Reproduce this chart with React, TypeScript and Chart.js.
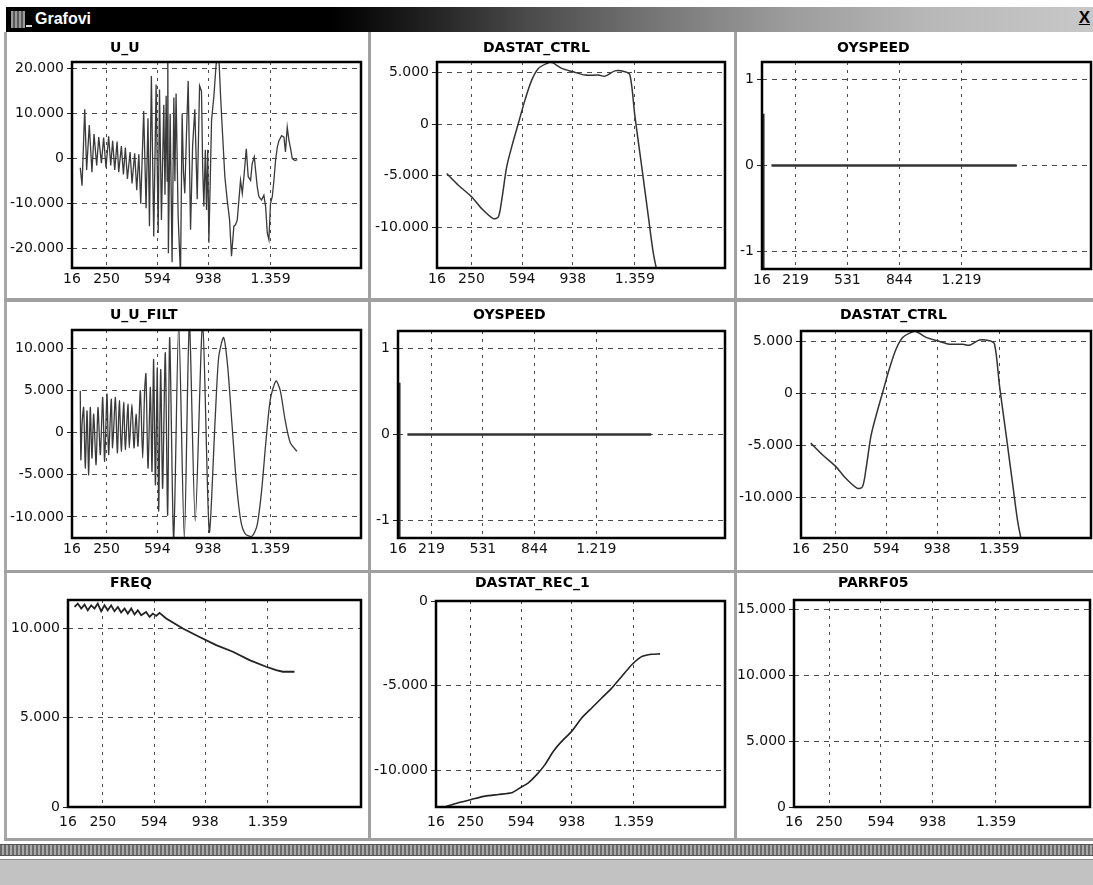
import { useEffect, useRef } from 'react';
import { Chart, registerables } from 'chart.js';

Chart.register(...registerables);

const FONT = "'DejaVu Sans', Verdana, sans-serif";
const TITLE_FONT = "'Liberation Sans', Arial, Helvetica, sans-serif";

// ---- tick values ----
const X_TICKS_A = [16, 250, 594, 938, 1359];
const X_TICKS_B = [16, 219, 531, 844, 1219];
const Y_TICKS_UU = [-20000, -10000, 0, 10000, 20000];
const Y_TICKS_FILT = [-10000, -5000, 0, 5000, 10000];
const Y_TICKS_CTRL = [-10000, -5000, 0, 5000];
const Y_TICKS_SPEED = [-1, 0, 1];
const Y_TICKS_FREQ = [0, 5000, 10000];
const Y_TICKS_REC = [-10000, -5000, 0];
const Y_TICKS_PARR = [0, 5000, 10000, 15000];

// ---- series ----
const UU_X = [72, 84, 102, 115, 133, 151, 165, 183, 197, 215, 230, 246, 264, 278, 291, 305, 321, 332, 350, 364, 377, 391, 409, 422, 440, 454, 468, 481, 501, 517, 530, 540, 553, 569, 585, 599, 608, 621, 637, 645, 653, 660, 664, 668, 680, 693, 705, 712, 720, 734, 750, 761, 770, 779, 790, 802, 818, 832, 847, 863, 879, 892, 900, 908, 918, 926, 934, 942, 960, 976, 991, 1009, 1021, 1032, 1050, 1066, 1082, 1095, 1111, 1122, 1134, 1145, 1156, 1168, 1179, 1195, 1208, 1224, 1235, 1249, 1258, 1269, 1280, 1298, 1314, 1326, 1337, 1348, 1359, 1371, 1382, 1393, 1405, 1416, 1434, 1450, 1460, 1472, 1484, 1495, 1506, 1524, 1540];
const UU_Y = [-2000, -6000, 11000, -2500, 7500, -3000, 5500, -1500, 4800, -1000, 4700, -2000, 5000, -1500, 4000, -2500, 3800, -3000, 2800, -3500, 2500, -4500, 1500, -5500, 1200, -7000, 1000, -10000, 10600, -11000, 9000, -15000, 18400, -17300, 16500, -16500, 15400, -13600, 12000, -8000, 14000, -5000, 25000, -21000, 10000, -23000, 13600, -5000, 14500, -12800, -26000, 10000, -3000, -7700, 5000, 17300, -15800, 3000, 11000, -9000, 16200, 15000, -2000, -10600, 2000, -11400, 2000, -18700, 8500, 14000, 21000, 23000, 14000, 7000, -4000, -9200, -13600, -21700, -15000, -14700, -13600, -9200, -4800, -7700, -4000, 2200, -4000, -4800, -1100, 400, -2600, -6200, -8400, -9200, -8100, -10700, -16500, -18000, -10000, -8400, -4800, -400, 2600, 4000, 5100, 4800, 1500, 7000, 4000, 2200, 0, -400, -200];

const FILT_X = [72, 76, 84, 95, 106, 118, 129, 140, 151, 163, 179, 192, 208, 224, 237, 253, 264, 282, 291, 310, 323, 337, 350, 366, 377, 395, 404, 422, 436, 450, 463, 479, 495, 508, 517, 531, 547, 558, 569, 581, 594, 603, 617, 630, 648, 664, 678, 705, 739, 777, 811, 851, 901, 946, 987, 1010, 1043, 1070, 1100, 1130, 1160, 1190, 1235, 1270, 1300, 1330, 1360, 1398, 1427, 1461, 1495, 1540];
const FILT_Y = [5000, -3200, 1000, 3000, -4200, 2600, -5000, 3000, -3000, 2200, -3800, 3000, -2600, 4200, -3400, 4600, -2600, 4000, -1800, 4200, -2400, 3800, -2200, 3600, -2000, 3400, -1800, 3400, -1800, 2200, -1600, 5000, -3000, 5000, 7000, -4200, 5400, -4600, 8700, -6200, 7700, -9300, 7500, -6600, 9500, -9800, 11300, -12600, 13000, -12600, 13000, -10500, 13000, -11800, 2000, 9000, 11300, 8000, 1000, -6000, -10500, -12000, -12300, -11000, -7000, -1000, 4000, 6150, 5000, 1400, -1200, -2200];

const CTRL_X = [82, 161, 252, 319, 398, 432, 455, 489, 523, 568, 613, 659, 704, 761, 795, 863, 941, 1021, 1111, 1157, 1224, 1292, 1326, 1360, 1406, 1451, 1485, 1520];
const CTRL_Y = [-4790, -5920, -7060, -8190, -9160, -9000, -7380, -4150, -2200, 70, 2330, 4270, 5410, 5890, 5990, 5410, 5080, 4760, 4760, 4660, 5170, 5080, 4760, 710, -4150, -9000, -12550, -15000];

const SPEED_X = [24, 24, 40, 73, 1552];
const SPEED_Y = [0.6, -1.5, null, 0, 0];

const FREQ_X = [60, 82, 105, 127, 149, 172, 194, 216, 239, 261, 283, 306, 328, 351, 373, 396, 418, 441, 463, 485, 508, 541, 564, 586, 609, 631, 676, 788, 900, 1012, 1124, 1236, 1348, 1415, 1460, 1538];
const FREQ_Y = [11210, 11400, 11120, 11340, 11020, 11300, 11120, 11400, 10970, 11300, 11020, 11300, 10970, 11210, 10900, 11120, 10840, 11120, 10790, 11020, 10750, 10930, 10650, 10840, 10710, 10880, 10560, 10000, 9530, 9070, 8700, 8230, 7860, 7670, 7580, 7580];

const REC_X = [77, 167, 258, 349, 439, 530, 586, 643, 700, 756, 813, 869, 937, 1005, 1073, 1141, 1209, 1277, 1345, 1412, 1480, 1537];
const REC_Y = [-12140, -11900, -11700, -11510, -11410, -11310, -11020, -10720, -10240, -9650, -8860, -8280, -7690, -6900, -6310, -5720, -5140, -4450, -3760, -3280, -3140, -3120];

const PARR_X: number[] = [];
const PARR_Y: number[] = [];

type Panel = {
  title: string;
  tx: number;
  ty: number;
  box: [number, number, number, number];
  area: [number, number, number, number];
  xMax: number;
  xTicks: number[];
  yMin: number;
  yMax: number;
  yTicks: number[];
  xs: number[];
  ys: (number | null)[];
  color: string;
  width: number;
  tension: number;
  labelPad: number;
};

function fmt(v: number): string {
  if (v === 0) return '0';
  if (!Number.isInteger(v)) return String(v);
  const neg = v < 0;
  const s = String(Math.abs(v)).replace(/\B(?=(\d{3})+(?!\d))/g, '.');
  return (neg ? '-' : '') + s;
}

const ROW1: [number, number] = [34, 264];
const ROW2: [number, number] = [303, 267];
const ROW3: [number, number] = [574, 264];
const COL1: [number, number] = [8, 360];
const COL2: [number, number] = [372, 362];
const COL3: [number, number] = [738, 355];

const box = (c: [number, number], r: [number, number]): [number, number, number, number] => [c[0], r[0], c[1], r[1]];

const PANELS: Panel[] = [
  { title: 'U_U', tx: 110, ty: 48, box: box(COL1, ROW1), area: [72, 62, 361, 268], xMax: 1971, xTicks: X_TICKS_A, yMin: -24300, yMax: 21500, yTicks: Y_TICKS_UU, xs: UU_X, ys: UU_Y, color: '#3a3a3a', width: 1.3, tension: 0, labelPad: 3 },
  { title: 'DASTAT_CTRL', tx: 483, ty: 48, box: box(COL2, ROW1), area: [437, 62, 725, 268], xMax: 1971, xTicks: X_TICKS_A, yMin: -13950, yMax: 6030, yTicks: Y_TICKS_CTRL, xs: CTRL_X, ys: CTRL_Y, color: '#333', width: 1.5, tension: 0.3, labelPad: 3 },
  { title: 'OYSPEED', tx: 837, ty: 48, box: box(COL3, ROW1), area: [762, 62, 1091, 269], xMax: 2000, xTicks: X_TICKS_B, yMin: -1.2, yMax: 1.2, yTicks: Y_TICKS_SPEED, xs: SPEED_X, ys: SPEED_Y, color: '#333', width: 2.5, tension: 0, labelPad: 3 },
  { title: 'U_U_FILT', tx: 110, ty: 315, box: box(COL1, ROW2), area: [72, 330, 361, 538], xMax: 1974, xTicks: X_TICKS_A, yMin: -12500, yMax: 12200, yTicks: Y_TICKS_FILT, xs: FILT_X, ys: FILT_Y, color: '#3a3a3a', width: 1.3, tension: 0.25, labelPad: 3 },
  { title: 'OYSPEED', tx: 473, ty: 315, box: box(COL2, ROW2), area: [398, 331, 725, 538], xMax: 2000, xTicks: X_TICKS_B, yMin: -1.2, yMax: 1.2, yTicks: Y_TICKS_SPEED, xs: SPEED_X, ys: SPEED_Y, color: '#333', width: 2.5, tension: 0, labelPad: 3 },
  { title: 'DASTAT_CTRL', tx: 840, ty: 315, box: box(COL3, ROW2), area: [801, 331, 1091, 538], xMax: 1979, xTicks: X_TICKS_A, yMin: -13950, yMax: 6030, yTicks: Y_TICKS_CTRL, xs: CTRL_X, ys: CTRL_Y, color: '#333', width: 1.5, tension: 0.3, labelPad: 3 },
  { title: 'FREQ', tx: 110, ty: 583, box: box(COL1, ROW3), area: [68, 600, 361, 807], xMax: 1985, xTicks: X_TICKS_A, yMin: 0, yMax: 11600, yTicks: Y_TICKS_FREQ, xs: FREQ_X, ys: FREQ_Y, color: '#222', width: 1.8, tension: 0, labelPad: 7 },
  { title: 'DASTAT_REC_1', tx: 475, ty: 583, box: box(COL2, ROW3), area: [436, 601, 725, 807], xMax: 1978, xTicks: X_TICKS_A, yMin: -12150, yMax: 0, yTicks: Y_TICKS_REC, xs: REC_X, ys: REC_Y, color: '#222', width: 1.6, tension: 0.2, labelPad: 7 },
  { title: 'PARRF05', tx: 838, ty: 583, box: box(COL3, ROW3), area: [794, 600, 1090, 807], xMax: 1984, xTicks: X_TICKS_A, yMin: 0, yMax: 15700, yTicks: Y_TICKS_PARR, xs: PARR_X, ys: PARR_Y, color: '#222', width: 1.6, tension: 0, labelPad: 7 },
];

function framePlugin(p: Panel) {
  return {
    id: 'frame',
    afterDatasetsDraw(chart: any) {
      const { ctx, chartArea: a } = chart;
      ctx.save();
      ctx.strokeStyle = '#000';
      ctx.lineWidth = 2.5;
      ctx.strokeRect(a.left, a.top, a.right - a.left, a.bottom - a.top);
      ctx.restore();
    },
    afterDraw(chart: any) {
      const ctx = chart.ctx;
      ctx.save();
      ctx.font = `bold 14px ${FONT}`;
      ctx.fillStyle = '#000';
      ctx.textAlign = 'left';
      ctx.textBaseline = 'middle';
      ctx.fillText(p.title, p.tx - p.box[0], p.ty - p.box[1]);
      ctx.restore();
    },
  };
}

function ChartPanel({ p }: { p: Panel }) {
  const ref = useRef<HTMLCanvasElement>(null);
  useEffect(() => {
    const [bl, bt, bw, bh] = p.box;
    const L = p.area[0] - bl;
    const T = p.area[1] - bt;
    const R = p.area[2] - bl;
    const B = p.area[3] - bt;
    const n = Math.min(p.xs.length, p.ys.length);
    const data = [] as { x: number; y: number | null }[];
    for (let i = 0; i < n; i++) data.push({ x: p.xs[i], y: p.ys[i] });
    const tickFont = { family: FONT, size: 14 };
    const chart = new Chart(ref.current as HTMLCanvasElement, {
      type: 'line',
      data: {
        datasets: [
          {
            data: data as any,
            borderColor: p.color,
            borderWidth: p.width,
            pointRadius: 0,
            tension: p.tension,
            fill: false,
            spanGaps: false,
          },
        ],
      },
      options: {
        animation: false,
        responsive: false,
        events: [],
        layout: { padding: { left: 0, top: T, right: bw - R, bottom: 0 } },
        plugins: { legend: { display: false }, tooltip: { enabled: false }, title: { display: false } },
        scales: {
          x: {
            type: 'linear',
            min: 16,
            max: p.xMax,
            afterBuildTicks: (s: any) => {
              s.ticks = p.xTicks.map((v) => ({ value: v }));
            },
            afterFit: (s: any) => {
              s.height = bh - B;
            },
            ticks: {
              autoSkip: false,
              maxRotation: 0,
              padding: p.labelPad,
              color: '#111',
              font: tickFont,
              callback: (v: any) => fmt(Number(v)),
            },
            grid: { color: '#4a4a4a', lineWidth: 1, drawTicks: false },
            border: { display: false, dash: [3, 5] },
          },
          y: {
            type: 'linear',
            min: p.yMin,
            max: p.yMax,
            afterBuildTicks: (s: any) => {
              s.ticks = p.yTicks.map((v) => ({ value: v }));
            },
            afterFit: (s: any) => {
              s.width = L;
            },
            ticks: {
              padding: 3,
              color: '#111',
              font: tickFont,
              callback: (v: any) => fmt(Number(v)),
            },
            grid: { color: '#4a4a4a', lineWidth: 1, drawTicks: true, tickLength: 5, tickColor: '#222', tickBorderDash: [] },
            border: { display: false, dash: [5, 5] },
          },
        },
      } as any,
      plugins: [framePlugin(p)],
    });
    return () => chart.destroy();
  }, [p]);
  const [bl, bt, bw, bh] = p.box;
  return (
    <canvas
      ref={ref}
      width={bw}
      height={bh}
      style={{ position: 'absolute', left: bl, top: bt, width: bw, height: bh, display: 'block' }}
    />
  );
}

const line = (left: number, top: number, width: number, height: number, bg: string) => (
  <div style={{ position: 'absolute', left, top, width, height, background: bg }} />
);

export default function App() {
  return (
    <div
      style={{
        position: 'absolute',
        left: 0,
        top: 0,
        width: 1093,
        height: 885,
        background: '#fff',
        overflow: 'hidden',
        fontFamily: TITLE_FONT,
      }}
    >
      {/* title bar */}
      <div
        style={{
          position: 'absolute',
          left: 6,
          top: 7,
          width: 1087,
          height: 25,
          background:
            'linear-gradient(90deg, #000 0%, #000 30%, #1e1e1e 38%, #4a4a4a 48%, #777 60%, #9c9c9c 72%, #b8b8b8 85%, #c8c8c8 100%)',
        }}
      >
        <div style={{ position: 'absolute', left: 5, top: 4, width: 14, height: 17, background: 'repeating-linear-gradient(90deg, #9a9a9a 0 2px, #5a5a5a 2px 4px)' }} />
        <div style={{ position: 'absolute', left: 20, top: 18, width: 6, height: 2, background: '#ddd' }} />
        <div style={{ position: 'absolute', left: 29, top: 2, color: '#fff', fontSize: 16, fontWeight: 'bold', lineHeight: '20px' }}>Grafovi</div>
        <div style={{ position: 'absolute', right: 3, top: 1, color: '#000', fontSize: 17, fontWeight: 'bold', lineHeight: '20px', textDecoration: 'underline' }}>X</div>
      </div>

      {/* window and panel borders */}
      {line(4, 32, 3, 808, '#a8a8a8')}
      {line(368, 32, 3, 808, '#a0a0a0')}
      {line(734, 32, 3, 808, '#a0a0a0')}
      {line(4, 298, 1089, 4, '#a0a0a0')}
      {line(4, 570, 1089, 3, '#a0a0a0')}
      {line(4, 838, 1089, 3, '#a0a0a0')}

      {PANELS.map((p, i) => (
        <ChartPanel key={i} p={p} />
      ))}

      {/* bottom bars */}
      <div
        style={{
          position: 'absolute',
          left: 0,
          top: 844,
          width: 1093,
          height: 12,
          background: 'repeating-linear-gradient(90deg, #6a6a6a 0 2px, #a8a8a8 2px 4px)',
          borderTop: '1px solid #555',
          borderBottom: '1px solid #555',
          boxSizing: 'border-box',
        }}
      />
      <div
        style={{
          position: 'absolute',
          left: 0,
          top: 859,
          width: 1093,
          height: 26,
          background: '#c2c2c2',
          borderTop: '1px solid #8a8a8a',
          boxSizing: 'border-box',
        }}
      />
    </div>
  );
}
